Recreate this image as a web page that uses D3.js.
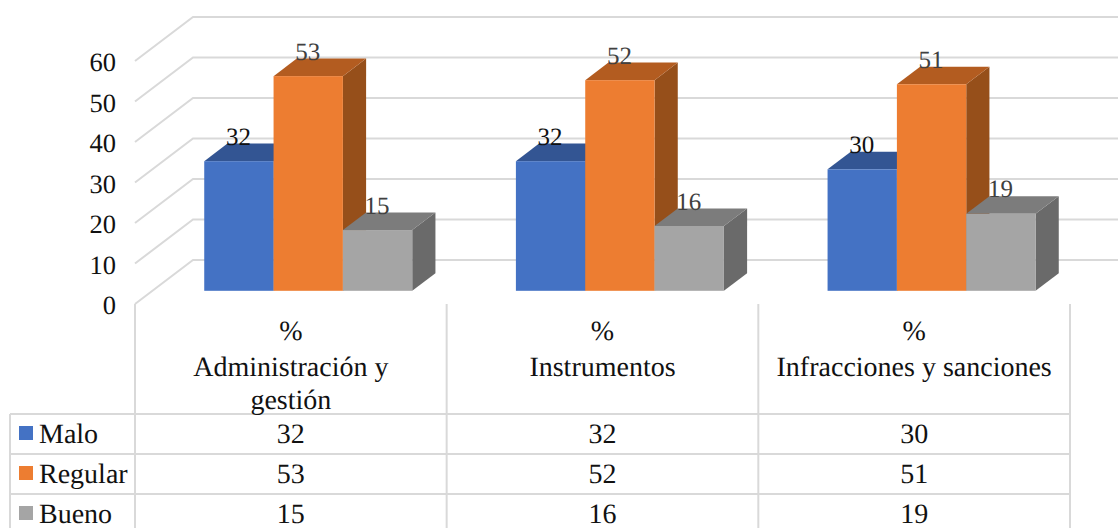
<!DOCTYPE html>
<html><head><meta charset="utf-8">
<script src="https://cdn.jsdelivr.net/npm/d3@7"></script>
<style>html,body{margin:0;padding:0;background:#fff;overflow:hidden}svg{display:block}text{font-family:"Liberation Serif",serif;text-rendering:geometricPrecision}</style>
</head><body><svg id="c" width="1118" height="528"></svg>
<script>
const categories = ["Administración y gestión", "Instrumentos", "Infracciones y sanciones"];
const categoryLines = [["Administración y", "gestión"], ["Instrumentos"], ["Infracciones y sanciones"]];
const seriesNames = ["Malo", "Regular", "Bueno"];
const malo = [32, 32, 30];
const regular = [53, 52, 51];
const bueno = [15, 16, 19];
const seriesValues = [malo, regular, bueno];
const yTicks = [0, 10, 20, 30, 40, 50, 60];
const frontColors = ["#4472c4", "#ed7d31", "#a5a5a5"];
const topColors = ["#335593", "#b35c20", "#7c7c7c"];
const sideColors = ["#2c4a80", "#964f1a", "#6a6a6a"];
const labelColors = ["#111111", "#404040", "#404040"];
const gridColor = "#d9d9d9";
const textColor = "#111111";

const W = 1118, H = 528;
const svg = d3.select("#c");
const x0 = d3.scaleBand().domain(categories).range([135, 1070]);
const y = d3.scaleLinear().domain([0, 60]).range([304, 61]);
const depthX = 58, depthY = 44;
const zFront = 0.3, zBack = 0.7;
const px = (x, z) => x + depthX * z;
const py = (v, z) => y(v) - depthY * z;
const inner = d3.scaleBand().domain(seriesNames).range([-104, 104]);

// walls
const grid = svg.append("g").attr("fill", "none").attr("stroke", gridColor).attr("stroke-width", 2);
const left = x0.range()[0], right = x0.range()[1];
yTicks.forEach(t => {
  grid.append("path").attr("d", d3.line()([[left, py(t, 0)], [px(left, 1), py(t, 1)], [W, py(t, 1)]]));
});

// y axis labels
const axis = d3.axisLeft(y).tickValues(yTicks).tickSize(0).tickPadding(0);
const ag = svg.append("g").attr("transform", "translate(116,1.5)").call(axis);
ag.select(".domain").remove();
ag.selectAll("text").attr("font-size", 26.5).attr("fill", textColor).style("font-family", '"Liberation Serif",serif');

// bars
categories.forEach((c, ci) => {
  const cx = x0(c) + x0.bandwidth() / 2;
  seriesNames.forEach((s, si) => {
    const v = seriesValues[si][ci];
    const xa = cx + inner(s), xb = xa + inner.bandwidth();
    const g = svg.append("g");
    g.append("polygon").attr("fill", sideColors[si]).attr("points", [
      [px(xb, zFront), py(v, zFront)], [px(xb, zBack), py(v, zBack)],
      [px(xb, zBack), py(0, zBack)], [px(xb, zFront), py(0, zFront)]].join(" "));
    g.append("polygon").attr("fill", topColors[si]).attr("points", [
      [px(xa, zFront), py(v, zFront)], [px(xb, zFront), py(v, zFront)],
      [px(xb, zBack), py(v, zBack)], [px(xa, zBack), py(v, zBack)]].join(" "));
    g.append("rect").attr("fill", frontColors[si])
      .attr("x", px(xa, zFront)).attr("y", py(v, zFront))
      .attr("width", xb - xa).attr("height", py(0, zFront) - py(v, zFront));
  });
});
// value labels
categories.forEach((c, ci) => {
  const cx = x0(c) + x0.bandwidth() / 2;
  seriesNames.forEach((s, si) => {
    const v = seriesValues[si][ci];
    svg.append("text").attr("x", px(cx + inner(s) + inner.bandwidth() / 2, zFront) - 0.5)
      .attr("y", py(v, zFront) - 16.5).attr("text-anchor", "middle")
      .attr("font-size", 25).attr("fill", labelColors[si]).text(v);
  });
});

// data table
const tableLeft = 10, headerTop = 304;
const rowY = d3.scaleBand().domain(seriesNames).range([414, 534]);
const tbl = svg.append("g").attr("stroke", gridColor).attr("stroke-width", 2);
seriesNames.forEach(s => tbl.append("line").attr("x1", tableLeft).attr("x2", right).attr("y1", rowY(s)).attr("y2", rowY(s)));
tbl.append("line").attr("x1", tableLeft).attr("x2", tableLeft).attr("y1", 414).attr("y2", H);
[...categories.map(c => x0(c)), right].forEach(xx =>
  tbl.append("line").attr("x1", xx).attr("x2", xx).attr("y1", headerTop).attr("y2", H));

categories.forEach((c, ci) => {
  const cx = x0(c) + x0.bandwidth() / 2;
  const t = (yy, str) => svg.append("text").attr("x", cx).attr("y", yy).attr("text-anchor", "middle")
    .attr("font-size", 28).attr("fill", textColor).text(str);
  t(340, "%");
  categoryLines[ci].forEach((ln, i) => t(376 + i * 33, ln));
  seriesNames.forEach((s, si) => t(rowY(s) + 28.5, seriesValues[si][ci]));
});
seriesNames.forEach((s, si) => {
  svg.append("rect").attr("x", 19).attr("y", rowY(s) + 12).attr("width", 14).attr("height", 14).attr("fill", frontColors[si]);
  svg.append("text").attr("x", 39).attr("y", rowY(s) + 28.5).attr("font-size", 28).attr("fill", textColor).text(s);
});
</script></body></html>
